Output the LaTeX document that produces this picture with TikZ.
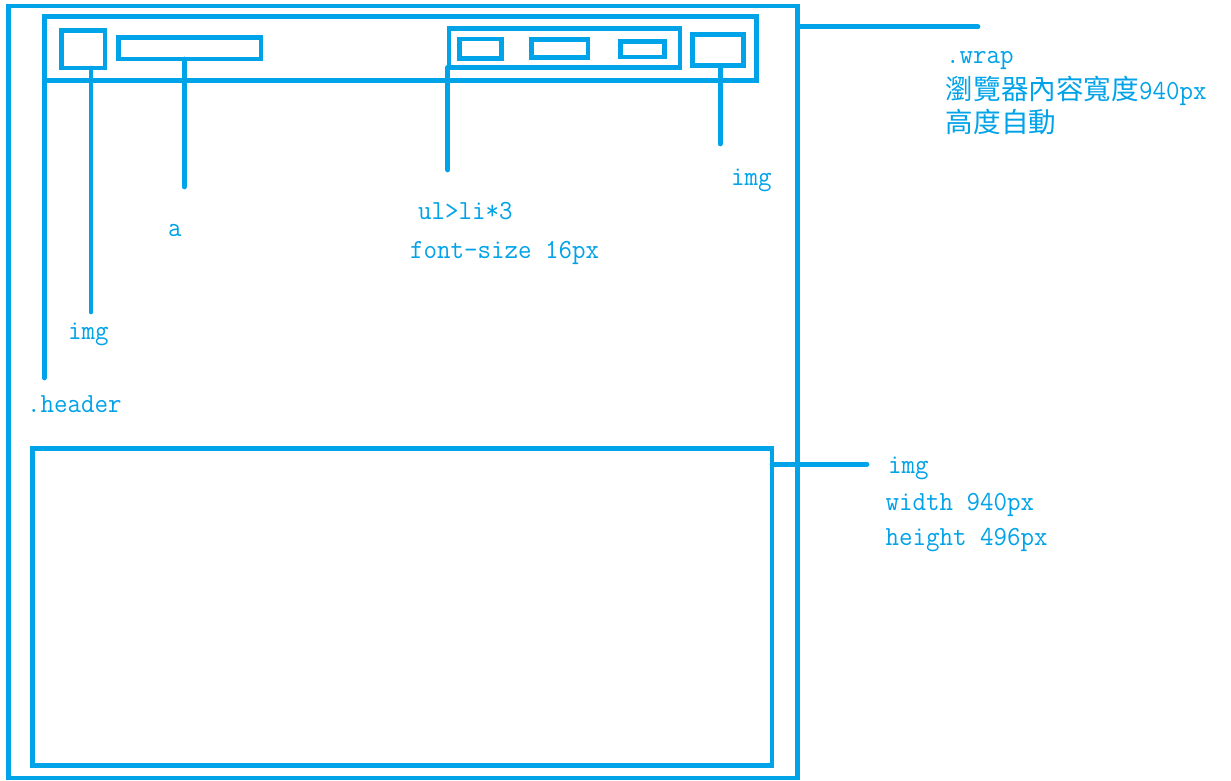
\documentclass[tikz,border=0pt]{standalone}
\usepackage{fontspec}
\newfontfamily\lat[FakeStretch=0.95]{Latin Modern Mono}
\newfontfamily\cjk{Noto Sans CJK TC}
\definecolor{sky}{RGB}{0,162,232}
\begin{document}
\begin{tikzpicture}[x=1pt,y=-1pt,
  box/.style={draw=sky,line width=4.7pt,inner sep=0pt,outer sep=0pt,minimum width=#1},
  lead/.style={draw=sky,line width=4.7pt,line cap=round},
  lbl/.style={text=sky,inner sep=0pt,anchor=base west,font=\lat\fontsize{27.6}{35}\selectfont}]
\useasboundingbox (0,0) rectangle (1231,781);
% boxes
\node[box=789pt,minimum height=772pt] (wrap) at (403,392) {};
\node[box=712.4pt,minimum height=63.8pt] (header) at (400.5,48.6) {};
\node[box=43.3pt,minimum height=37.3pt] (img1) at (83.35,49.35) {};
\node[box=142.7pt,minimum height=21.7pt] (abox) at (189.65,48.15) {};
\node[box=231pt,minimum height=38.6pt] (ul) at (564.5,48) {};
\node[box=41.4pt,minimum height=19.3pt] (li1) at (480.5,48.65) {};
\node[box=56.8pt,minimum height=17.6pt] (li2) at (559.6,48.5) {};
\node[box=43.7pt,minimum height=15.5pt] (li3) at (642.65,49.25) {};
\node[box=51pt,minimum height=30.9pt] (img2) at (718.3,50.25) {};
\node[box=739.5pt,minimum height=316.8pt] (bigimg) at (402.25,607.1) {};
% leader end points
\coordinate (eheader) at (44.3,378);
\coordinate (eimg1) at (91,312);
\coordinate (ea) at (184.3,187);
\coordinate (eul) at (447.7,170);
\coordinate (eimg2) at (720.2,144);
\coordinate (ewrap) at (978,26.8);
\coordinate (ebig) at (867,464.3);
% leaders
\draw[lead] (header.south west) -- (eheader);
\draw[lead] (img1.south -| eimg1) -- (eimg1);
\draw[lead] (abox.south -| ea) -- (ea);
\draw[lead] (ul.south -| eul) -- (eul);
\draw[lead] (img2.south -| eimg2) -- (eimg2);
\draw[lead] (wrap.east |- ewrap) -- (ewrap);
\draw[lead] (bigimg.east |- ebig) -- (ebig);
% labels
\node[lbl] (theader) at (27,412.7) {.header};
\node[lbl] (timg1) at (68,339) {img};
\node[lbl] (ta) at (168,236) {a};
\node[lbl] (tul1) at (418,219) {ul>li*3};
\node[lbl] (tul2) at (410,258.5) {font-size 16px};
\node[lbl] (timg2) at (731,185) {img};
\node[lbl] (tw1) at (946,64) {.wrap};
\node[lbl] (tw2) at (945.7,100) {{\cjk 瀏覽器內容寬度}940px};
\node[lbl] (tw3) at (945.7,133) {{\cjk 高度自動}};
\node[lbl] (tb1) at (888,473) {img};
\node[lbl] (tb2) at (885.5,510.7) {width 940px};
\node[lbl] (tb3) at (885.5,545.7) {height 496px};
\end{tikzpicture}
\end{document}
